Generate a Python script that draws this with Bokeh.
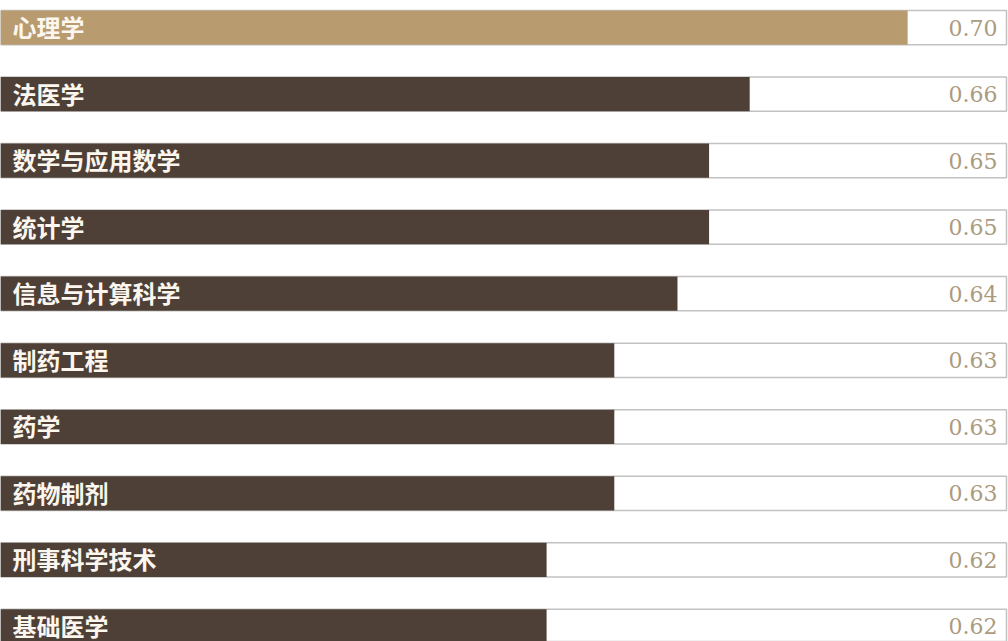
from bokeh.plotting import figure
from bokeh.models import Range1d, ColumnDataSource
from bokeh.core.properties import value
from bokeh.embed import file_html
from bokeh.resources import INLINE

# ---- data ----
majors = ["心理学", "法医学", "数学与应用数学", "统计学", "信息与计算科学",
          "制药工程", "药学", "药物制剂", "刑事科学技术", "基础医学"]
scores = [0.701, 0.666, 0.657, 0.657, 0.650, 0.636, 0.636, 0.636, 0.621, 0.621]
score_labels = ["0.70", "0.66", "0.65", "0.65", "0.64",
                "0.63", "0.63", "0.63", "0.62", "0.62"]
highlight = [True, False, False, False, False, False, False, False, False, False]

XMIN, XMAX = 0.5, 0.7229
W, H = 1008, 641

rows = list(range(len(majors)))
colors = ["#b99b70" if h else "#4e4036" for h in highlight]
src = ColumnDataSource(dict(
    y=rows, major=majors, score=scores, label=score_labels, color=colors,
    left=[XMIN] * len(rows), track=[XMAX] * len(rows),
))

p = figure(width=W, height=H, output_backend="svg", toolbar_location=None,
           x_range=Range1d(XMIN, XMAX + (XMAX - XMIN) * 2 / 1006),
           y_range=Range1d(9.226, -0.406),
           min_border=0, outline_line_color=None,
           background_fill_color="white", border_fill_color="white")
p.axis.visible = False
p.grid.visible = False

bh = 0.515
# track boxes
p.hbar(y="y", left="left", right="track", height=bh, source=src,
       fill_color="white", line_color="#c2c2c2", line_width=1.5)
# bars
p.hbar(y="y", left="left", right="score", height=bh, source=src,
       fill_color="color", line_color=None)
# major labels
p.text(x="left", y="y", text="major", source=src, x_offset=12, y_offset=-1,
       text_align="left", text_baseline="middle",
       text_font=value("Noto Sans CJK SC"), text_font_style="bold",
       text_font_size="24px", text_color="#fbf6ee")
# score labels
p.text(x="track", y="y", text="label", source=src, x_offset=-9,
       text_align="right", text_baseline="middle",
       text_font=value("DejaVu Serif"), text_font_size="22px",
       text_color="#ab9b7e")

open("out.html", "w").write(file_html(p, INLINE))
